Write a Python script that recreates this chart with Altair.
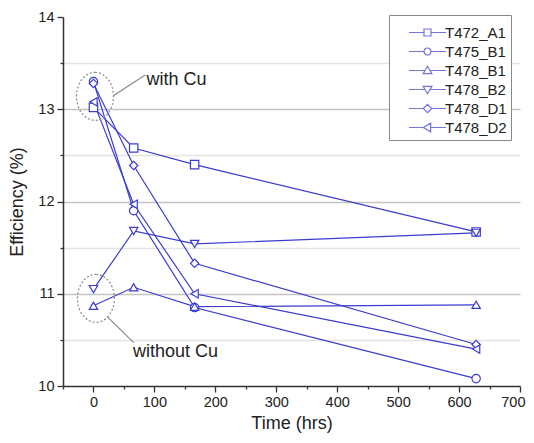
import altair as alt
import pandas as pd

series = ["T472_A1", "T475_B1", "T478_B1", "T478_B2", "T478_D1", "T478_D2"]
times = [0, 66, 166, 628]
T472_A1 = [13.02, 12.58, 12.40, 11.67]
T475_B1 = [13.30, 11.90, 10.85, 10.08]
T478_B1 = [10.87, 11.07, 10.86, 10.88]
T478_B2 = [11.05, 11.68, 11.54, 11.66]
T478_D1 = [13.28, 12.39, 11.33, 10.45]
T478_D2 = [13.08, 11.97, 11.00, 10.40]

x_major = [0, 100, 200, 300, 400, 500, 600, 700]
x_minor = [-50, 50, 150, 250, 350, 450, 550, 650]
y_ticks = [10, 10.5, 11, 11.5, 12, 12.5, 13, 13.5, 14]

# annotations
ann_ellipse_x = [2.5, 4]
ann_ellipse_y = [13.14, 10.95]
ann_line_x = [33, 23]
ann_line_y = [13.15, 10.75]
ann_line_x2 = [85, 66]
ann_line_y2 = [13.37, 10.47]
ann_text = ["with Cu", "without Cu"]
ann_text_x = [87, 65]
ann_text_y = [13.32, 10.37]

values = [T472_A1, T475_B1, T478_B1, T478_B2, T478_D1, T478_D2]
rows = []
for name, vals in zip(series, values):
    for t, v in zip(times, vals):
        rows.append({"series": name, "t": t, "eff": v})
df = pd.DataFrame(rows)

ell = pd.DataFrame({"t": ann_ellipse_x, "eff": ann_ellipse_y})
lines = pd.DataFrame({"t": ann_line_x, "eff": ann_line_y, "t2": ann_line_x2, "eff2": ann_line_y2})
texts = pd.DataFrame({"t": ann_text_x, "eff": ann_text_y, "label": ann_text})

BLUE = "#3b3bd0"
FONT = "Liberation Sans"

xscale = alt.Scale(domain=[-50, 700], nice=False, zero=False)
yscale = alt.Scale(domain=[10, 14], nice=False, zero=False)

xaxis = alt.Axis(
    values=x_major, title="Time (hrs)", grid=False, format="d", orient="bottom",
    labelOverlap=False, labelFlush=1, labelFlushOffset=5,
    tickSize=6,
    labelFontSize=14.5, titleFontSize=18, titleFontWeight="normal",
    labelColor="#222", titleColor="#222", labelFont=FONT, titleFont=FONT,
    domainColor="#333", tickColor="#333", domainWidth=1.5, tickWidth=1.3,
    labelPadding=3, titlePadding=6,
)
xaxis_minor = alt.Axis(
    values=x_minor, title=None, grid=False, labels=False, orient="bottom", domain=False,
    tickSize=3, tickColor="#333", tickWidth=1.3,
)
yaxis = alt.Axis(
    values=y_ticks, title="Efficiency (%)", grid=True, format="~g",
    labelExpr="datum.value % 1 === 0 ? datum.label : ''",
    labelOverlap=False,
    tickSize={"condition": {"test": "datum.value % 1 === 0", "value": 6}, "value": 3},
    gridColor={"condition": {"test": "datum.value % 1 === 0", "value": "#c4c4c4"}, "value": "#e4e4e4"},
    gridOpacity={"condition": {"test": "datum.value === 14 || datum.value === 10", "value": 0}, "value": 1},
    gridWidth=1.3,
    labelFontSize=14.5, titleFontSize=18, titleFontWeight="normal",
    labelColor="#222", titleColor="#222", labelFont=FONT, titleFont=FONT,
    domainColor="#333", tickColor="#333", domainWidth=1.5, tickWidth=1.3,
    labelPadding=3, titlePadding=11,
)

base = alt.Chart(df)

line_layer = base.mark_line(color=BLUE, strokeWidth=1.2).encode(
    x=alt.X("t:Q", scale=xscale, axis=xaxis),
    y=alt.Y("eff:Q", scale=yscale, axis=yaxis),
    detail="series:N",
)

point_layer = base.mark_point(filled=True, fill="white", stroke=BLUE, strokeWidth=1.2, size=70, opacity=1).encode(
    x=alt.X("t:Q", axis=None),
    y="eff:Q",
    shape=alt.Shape("series:N", scale=alt.Scale(
        domain=series,
        range=["square", "circle", "triangle-up", "triangle-down", "diamond", "triangle-left"]),
        legend=None),
)

legend_paths = [
    "M-5.3,0L-1,0M1,0L5.3,0M-1,-1L1,-1L1,1L-1,1Z",
    "M-5.3,0L-1,0M1,0L5.3,0M0,-1C0.552,-1 1,-0.552 1,0C1,0.552 0.552,1 0,1C-0.552,1 -1,0.552 -1,0C-1,-0.552 -0.552,-1 0,-1Z",
    "M-5.3,0L-0.65,0M0.65,0L5.3,0M0,-1.2L1.25,0.9L-1.25,0.9Z",
    "M-5.3,0L-0.65,0M0.65,0L5.3,0M0,1.2L1.25,-0.9L-1.25,-0.9Z",
    "M-5.3,0L-1.2,0M1.2,0L5.3,0M0,-1.2L1.2,0L0,1.2L-1.2,0Z",
    "M-5.3,0L-1.2,0M0.9,0L5.3,0M-1.2,0L0.9,-1.25L0.9,1.25Z",
]

legend_layer = base.transform_filter("false").mark_point(filled=False, color=BLUE, strokeWidth=1.2).encode(
    x=alt.X("t:Q", axis=xaxis_minor),
    y="eff:Q",
    shape=alt.Shape("series:N", scale=alt.Scale(domain=series, range=legend_paths),
                    legend=alt.Legend(title=" ", titleFontSize=3, titlePadding=3,
                                      orient="none", legendX=326, legendY=-2,
                                      symbolSize=49, symbolStrokeColor=BLUE, symbolStrokeWidth=1.2,
                                      symbolOffset=27, labelOffset=10,
                                      labelFontSize=15, labelFont=FONT, labelColor="#222",
                                      rowPadding=3, padding=4,
                                      strokeColor="#888", fillColor="white")),
)

ellipse_path = "M0,-1C0.425,-1 0.77,-0.552 0.77,0C0.77,0.552 0.425,1 0,1C-0.425,1 -0.77,0.552 -0.77,0C-0.77,-0.552 -0.425,-1 0,-1Z"
ellipse_layer = alt.Chart(ell).mark_point(shape=ellipse_path, size=2304, filled=False, stroke="#888",
                                          strokeWidth=1.2, strokeDash=[2, 2], opacity=1).encode(
    x=alt.X("t:Q", axis=None), y="eff:Q")

rule_layer = alt.Chart(lines).mark_rule(color="#888", strokeWidth=1.2).encode(
    x=alt.X("t:Q", axis=None), y="eff:Q", x2="t2:Q", y2="eff2:Q")

text_layer = alt.Chart(texts).mark_text(align="left", baseline="middle", fontSize=18, font=FONT,
                                        color="#222").encode(
    x=alt.X("t:Q", axis=None), y="eff:Q", text="label:N")

chart = alt.layer(line_layer, ellipse_layer, rule_layer, point_layer, text_layer, legend_layer).resolve_scale(
    shape="independent"
).resolve_axis(
    x="independent"
).properties(
    width=457, height=369,
    autosize=alt.AutoSizeParams(type="none"),
    padding={"left": 55, "top": 9, "right": 6, "bottom": 49},
).configure_view(stroke=None)

chart.save("out.html", embed_options={"renderer": "svg", "actions": False})
